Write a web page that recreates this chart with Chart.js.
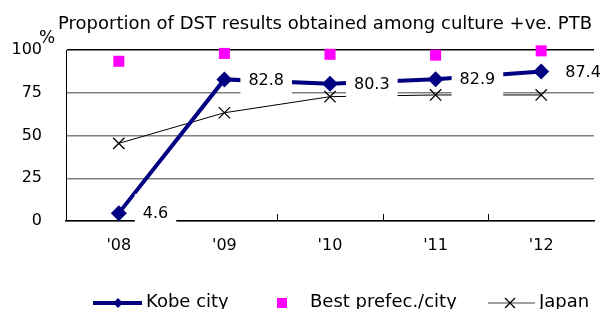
<!DOCTYPE html>
<html>
<head>
<meta charset="utf-8">
<script src="https://cdn.jsdelivr.net/npm/chart.js@4.4.1/dist/chart.umd.min.js"></script>
<style>
  html, body { margin: 0; padding: 0; background: #fff; }
  #wrap { width: 611px; height: 309px; position: relative; }
</style>
</head>
<body>
<div id="wrap"><canvas id="dstChart"></canvas></div>
<script>
const years = ["'08", "'09", "'10", "'11", "'12"];
const kobe = [4.6, 82.8, 80.3, 82.9, 87.4];
const best = [93.4, 98, 97.5, 97, 99.5];
const japan = [45.4, 63.3, 72.7, 73.7, 73.7];
const yTicks = [0, 25, 50, 75, 100];

const FONT = '"DejaVu Sans", Verdana, sans-serif';

// Title, "%" unit, value labels with white boxes, inside x tick marks, legend
const extras = {
    id: "extras",
    afterDatasetsDraw(chart) {
        const ctx = chart.ctx;
        const x = chart.scales.x;
        const area = chart.chartArea;
        ctx.save();

        // short tick marks between categories, pointing up
        ctx.strokeStyle = "#000";
        ctx.lineWidth = 1;
        for (let i = 0; i < years.length - 1; i++) {
            const px = Math.round((x.getPixelForValue(i) + x.getPixelForValue(i + 1)) / 2) + 0.5;
            ctx.beginPath();
            ctx.moveTo(px, area.bottom);
            ctx.lineTo(px, area.bottom - 7);
            ctx.stroke();
        }

        // value labels for Kobe city
        const meta = chart.getDatasetMeta(0);
        ctx.font = "16px " + FONT;
        ctx.textAlign = "left";
        ctx.textBaseline = "middle";
        meta.data.forEach((pt, i) => {
            const txt = kobe[i].toFixed(1);
            const w = ctx.measureText(txt).width;
            ctx.fillStyle = "#fff";
            ctx.fillRect(pt.x + 16, pt.y - 19, w + 16, 38);
            ctx.fillStyle = "#000";
            ctx.fillText(txt, pt.x + 24, pt.y + 1);
        });
        ctx.restore();
    },
    afterDraw(chart) {
        const ctx = chart.ctx;
        ctx.save();
        ctx.fillStyle = "#000";
        ctx.textBaseline = "alphabetic";
        ctx.font = "18px " + FONT;
        ctx.textAlign = "left";
        ctx.fillText("Proportion of DST results obtained among culture +ve. PTB", 58, 29);
        ctx.font = "17px " + FONT;
        ctx.fillText("%", 39, 43);

        // legend
        const ly = 303;
        ctx.font = "18px " + FONT;
        ctx.strokeStyle = "#000080";
        ctx.lineWidth = 4;
        ctx.beginPath(); ctx.moveTo(93, ly); ctx.lineTo(142, ly); ctx.stroke();
        ctx.fillStyle = "#000080";
        ctx.beginPath();
        ctx.moveTo(118, ly - 5); ctx.lineTo(123, ly); ctx.lineTo(118, ly + 5); ctx.lineTo(113, ly);
        ctx.closePath(); ctx.fill();
        ctx.fillStyle = "#000";
        ctx.fillText("Kobe city", 146, 307);

        ctx.fillStyle = "#ff00ff";
        ctx.fillRect(277, ly - 5, 10, 10);
        ctx.fillStyle = "#000";
        ctx.fillText("Best prefec./city", 310, 307);

        ctx.strokeStyle = "#808080";
        ctx.lineWidth = 1.5;
        ctx.beginPath(); ctx.moveTo(488, ly); ctx.lineTo(535, ly); ctx.stroke();
        ctx.strokeStyle = "#000";
        ctx.lineWidth = 1.3;
        ctx.beginPath();
        ctx.moveTo(505, ly - 5); ctx.lineTo(515, ly + 5);
        ctx.moveTo(515, ly - 5); ctx.lineTo(505, ly + 5);
        ctx.stroke();
        ctx.fillText("Japan", 539, 307);
        ctx.restore();
    }
};

new Chart(document.getElementById("dstChart"), {
    type: "line",
    data: {
        labels: years,
        datasets: [
            {
                label: "Kobe city",
                data: kobe,
                borderColor: "#000080",
                backgroundColor: "#000080",
                borderWidth: 4,
                pointStyle: "rectRot",
                pointRadius: 8,
                pointBorderWidth: 0,
                tension: 0,
                order: 1,
            },
            {
                label: "Best prefec./city",
                data: best,
                showLine: false,
                backgroundColor: "#ff00ff",
                borderColor: "#ff00ff",
                pointStyle: "rect",
                pointRadius: 7.8,
                pointBorderWidth: 0,
                order: 2,
            },
            {
                label: "Japan",
                data: japan,
                borderColor: "#000",
                backgroundColor: "#000",
                borderWidth: 1,
                pointStyle: "crossRot",
                pointRadius: 8,
                pointBorderWidth: 1.3,
                tension: 0,
                order: 3,
            },
        ],
    },
    options: {
        responsive: true,
        maintainAspectRatio: false,
        animation: false,
        clip: false,
        layout: { padding: { top: 50, right: 17, left: 0, bottom: 0 } },
        plugins: {
            legend: { display: false },
            tooltip: { enabled: false },
        },
        scales: {
            y: {
                min: 0,
                max: 100,
                afterFit: (s) => { s.width = 66; },
                afterBuildTicks: (s) => { s.ticks = yTicks.map((v) => ({ value: v })); },
                ticks: {
                    color: "#000",
                    padding: 24,
                    font: { family: FONT, size: 16 },
                },
                grid: {
                    drawTicks: false,
                    lineWidth: 1.5,
                    color: (c) => (c.tick && c.tick.value === 100 ? "#000" : "#808080"),
                },
                border: { color: "#000", width: 1 },
            },
            x: {
                offset: true,
                afterFit: (s) => { s.height = 88; },
                ticks: {
                    color: "#000",
                    padding: 15,
                    font: { family: FONT, size: 16 },
                },
                grid: { display: false, drawTicks: false },
                border: { color: "#000", width: 1.5 },
            },
        },
    },
    plugins: [extras],
});
</script>
</body>
</html>
